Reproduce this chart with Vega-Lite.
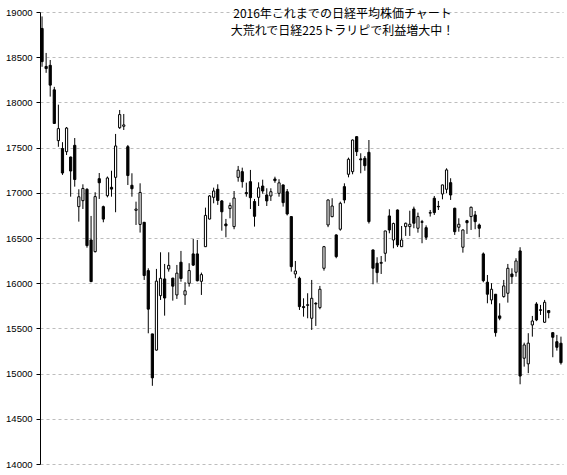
{
  "$schema": "https://vega.github.io/schema/vega-lite/v6.json",
  "width": 523,
  "height": 452,
  "autosize": {"type": "none"},
  "padding": {"left": 40, "top": 12, "right": 4, "bottom": 11},
  "background": "white",
  "title": {
    "text": ["2016年これまでの日経平均株価チャート", "大荒れで日経225トラリピで利益増大中！"],
    "anchor": "middle", "frame": "group", "dx": 41, "offset": -31,
    "font": "Noto Sans CJK JP", "fontSize": 12, "fontWeight": "normal", "color": "black", "lineHeight": 17
  },
  "config": {"view": {"stroke": null}},
  "data": {"values": [
    {"d": "2016-01-04", "o": 18818, "h": 18951, "l": 18394, "c": 18451},
    {"d": "2016-01-05", "o": 18398, "h": 18547, "l": 18327, "c": 18374},
    {"d": "2016-01-06", "o": 18410, "h": 18469, "l": 18064, "c": 18191},
    {"d": "2016-01-07", "o": 18139, "h": 18172, "l": 17767, "c": 17767},
    {"d": "2016-01-08", "o": 17577, "h": 17975, "l": 17509, "c": 17710},
    {"d": "2016-01-12", "o": 17490, "h": 17560, "l": 17198, "c": 17219},
    {"d": "2016-01-13", "o": 17455, "h": 17728, "l": 17418, "c": 17716},
    {"d": "2016-01-14", "o": 17396, "h": 17400, "l": 16957, "c": 17241},
    {"d": "2016-01-15", "o": 17525, "h": 17606, "l": 17068, "c": 17147},
    {"d": "2016-01-18", "o": 16847, "h": 17039, "l": 16681, "c": 16956},
    {"d": "2016-01-19", "o": 16913, "h": 17094, "l": 16821, "c": 17048},
    {"d": "2016-01-20", "o": 17039, "h": 17050, "l": 16393, "c": 16416},
    {"d": "2016-01-21", "o": 16478, "h": 16744, "l": 16017, "c": 16017},
    {"d": "2016-01-22", "o": 16349, "h": 17006, "l": 16340, "c": 16958},
    {"d": "2016-01-25", "o": 17156, "h": 17219, "l": 16932, "c": 17111},
    {"d": "2016-01-26", "o": 16847, "h": 16858, "l": 16674, "c": 16709},
    {"d": "2016-01-27", "o": 16968, "h": 17180, "l": 16950, "c": 17164},
    {"d": "2016-01-28", "o": 17061, "h": 17244, "l": 16957, "c": 17041},
    {"d": "2016-01-29", "o": 17171, "h": 17651, "l": 16785, "c": 17518},
    {"d": "2016-02-01", "o": 17720, "h": 17916, "l": 17707, "c": 17865},
    {"d": "2016-02-02", "o": 17736, "h": 17872, "l": 17695, "c": 17751},
    {"d": "2016-02-03", "o": 17510, "h": 17529, "l": 17086, "c": 17191},
    {"d": "2016-02-04", "o": 17083, "h": 17216, "l": 16957, "c": 17045},
    {"d": "2016-02-05", "o": 16806, "h": 16902, "l": 16644, "c": 16820},
    {"d": "2016-02-08", "o": 16650, "h": 17105, "l": 16560, "c": 17004},
    {"d": "2016-02-09", "o": 16674, "h": 16674, "l": 16036, "c": 16085},
    {"d": "2016-02-10", "o": 16139, "h": 16165, "l": 15446, "c": 15713},
    {"d": "2016-02-12", "o": 15439, "h": 15440, "l": 14865, "c": 14953},
    {"d": "2016-02-15", "o": 15260, "h": 16158, "l": 15254, "c": 16023},
    {"d": "2016-02-16", "o": 15862, "h": 16342, "l": 15815, "c": 16054},
    {"d": "2016-02-17", "o": 16047, "h": 16213, "l": 15641, "c": 15836},
    {"d": "2016-02-18", "o": 16158, "h": 16342, "l": 16128, "c": 16197},
    {"d": "2016-02-19", "o": 16056, "h": 16060, "l": 15807, "c": 15967},
    {"d": "2016-02-22", "o": 15870, "h": 16202, "l": 15826, "c": 16111},
    {"d": "2016-02-23", "o": 16232, "h": 16357, "l": 16017, "c": 16052},
    {"d": "2016-02-24", "o": 15870, "h": 16011, "l": 15760, "c": 15916},
    {"d": "2016-02-25", "o": 15999, "h": 16221, "l": 15962, "c": 16140},
    {"d": "2016-02-26", "o": 16324, "h": 16490, "l": 16190, "c": 16200},
    {"d": "2016-02-29", "o": 16324, "h": 16478, "l": 16020, "c": 16027},
    {"d": "2016-03-01", "o": 16021, "h": 16117, "l": 15870, "c": 16095},
    {"d": "2016-03-02", "o": 16404, "h": 16836, "l": 16400, "c": 16750},
    {"d": "2016-03-03", "o": 16710, "h": 16975, "l": 16705, "c": 16965},
    {"d": "2016-03-04", "o": 16950, "h": 17057, "l": 16884, "c": 17020},
    {"d": "2016-03-07", "o": 17039, "h": 17094, "l": 16866, "c": 16915},
    {"d": "2016-03-08", "o": 16910, "h": 16920, "l": 16581, "c": 16790},
    {"d": "2016-03-09", "o": 16655, "h": 16711, "l": 16508, "c": 16635},
    {"d": "2016-03-10", "o": 16825, "h": 16891, "l": 16718, "c": 16860},
    {"d": "2016-03-11", "o": 16626, "h": 17020, "l": 16597, "c": 16942},
    {"d": "2016-03-14", "o": 17171, "h": 17297, "l": 17123, "c": 17250},
    {"d": "2016-03-15", "o": 17234, "h": 17278, "l": 17057, "c": 17123},
    {"d": "2016-03-16", "o": 17002, "h": 17112, "l": 16957, "c": 16990},
    {"d": "2016-03-17", "o": 17123, "h": 17253, "l": 16821, "c": 16946},
    {"d": "2016-03-18", "o": 16904, "h": 16932, "l": 16626, "c": 16740},
    {"d": "2016-03-22", "o": 16950, "h": 17116, "l": 16854, "c": 17055},
    {"d": "2016-03-23", "o": 17075, "h": 17145, "l": 16990, "c": 17020},
    {"d": "2016-03-24", "o": 16976, "h": 17050, "l": 16854, "c": 16910},
    {"d": "2016-03-25", "o": 16965, "h": 17050, "l": 16910, "c": 17012},
    {"d": "2016-03-28", "o": 17153, "h": 17178, "l": 17110, "c": 17134},
    {"d": "2016-03-29", "o": 16994, "h": 17150, "l": 16957, "c": 17110},
    {"d": "2016-03-30", "o": 17087, "h": 17090, "l": 16847, "c": 16891},
    {"d": "2016-03-31", "o": 17012, "h": 17042, "l": 16750, "c": 16766},
    {"d": "2016-04-01", "o": 16737, "h": 16737, "l": 16128, "c": 16183},
    {"d": "2016-04-04", "o": 16102, "h": 16246, "l": 16055, "c": 16135},
    {"d": "2016-04-05", "o": 16055, "h": 16072, "l": 15704, "c": 15741},
    {"d": "2016-04-06", "o": 15741, "h": 15833, "l": 15630, "c": 15730},
    {"d": "2016-04-07", "o": 15755, "h": 15889, "l": 15612, "c": 15762},
    {"d": "2016-04-08", "o": 15612, "h": 16036, "l": 15483, "c": 15833},
    {"d": "2016-04-11", "o": 15778, "h": 15790, "l": 15527, "c": 15770},
    {"d": "2016-04-12", "o": 15730, "h": 15970, "l": 15712, "c": 15933},
    {"d": "2016-04-13", "o": 16165, "h": 16412, "l": 16139, "c": 16404},
    {"d": "2016-04-14", "o": 16644, "h": 16925, "l": 16620, "c": 16921},
    {"d": "2016-04-15", "o": 16736, "h": 16940, "l": 16730, "c": 16854},
    {"d": "2016-04-18", "o": 16534, "h": 16540, "l": 16276, "c": 16294},
    {"d": "2016-04-19", "o": 16597, "h": 16902, "l": 16581, "c": 16884},
    {"d": "2016-04-20", "o": 17068, "h": 17105, "l": 16884, "c": 16921},
    {"d": "2016-04-21", "o": 17205, "h": 17389, "l": 17171, "c": 17371},
    {"d": "2016-04-22", "o": 17234, "h": 17590, "l": 17205, "c": 17584},
    {"d": "2016-04-25", "o": 17621, "h": 17625, "l": 17407, "c": 17455},
    {"d": "2016-04-26", "o": 17375, "h": 17437, "l": 17216, "c": 17365},
    {"d": "2016-04-27", "o": 17382, "h": 17407, "l": 17244, "c": 17300},
    {"d": "2016-04-28", "o": 17448, "h": 17584, "l": 16660, "c": 16681},
    {"d": "2016-05-02", "o": 16368, "h": 16370, "l": 15988, "c": 16165},
    {"d": "2016-05-06", "o": 16221, "h": 16287, "l": 16006, "c": 16117},
    {"d": "2016-05-09", "o": 16220, "h": 16301, "l": 16102, "c": 16230},
    {"d": "2016-05-10", "o": 16331, "h": 16580, "l": 16238, "c": 16578},
    {"d": "2016-05-11", "o": 16744, "h": 16818, "l": 16552, "c": 16589},
    {"d": "2016-05-12", "o": 16478, "h": 16670, "l": 16386, "c": 16660},
    {"d": "2016-05-13", "o": 16810, "h": 16815, "l": 16400, "c": 16423},
    {"d": "2016-05-16", "o": 16404, "h": 16633, "l": 16400, "c": 16478},
    {"d": "2016-05-17", "o": 16626, "h": 16670, "l": 16523, "c": 16663},
    {"d": "2016-05-18", "o": 16626, "h": 16802, "l": 16523, "c": 16652},
    {"d": "2016-05-19", "o": 16821, "h": 16847, "l": 16608, "c": 16663},
    {"d": "2016-05-20", "o": 16608, "h": 16781, "l": 16559, "c": 16737},
    {"d": "2016-05-23", "o": 16680, "h": 16700, "l": 16442, "c": 16674},
    {"d": "2016-05-24", "o": 16614, "h": 16640, "l": 16478, "c": 16508},
    {"d": "2016-05-25", "o": 16775, "h": 16810, "l": 16737, "c": 16781},
    {"d": "2016-05-26", "o": 16940, "h": 16965, "l": 16755, "c": 16781},
    {"d": "2016-05-27", "o": 16850, "h": 16910, "l": 16810, "c": 16845},
    {"d": "2016-05-30", "o": 16987, "h": 17090, "l": 16928, "c": 17087},
    {"d": "2016-05-31", "o": 17039, "h": 17271, "l": 16995, "c": 17253},
    {"d": "2016-06-01", "o": 17112, "h": 17161, "l": 16921, "c": 16976},
    {"d": "2016-06-02", "o": 16829, "h": 16835, "l": 16534, "c": 16570},
    {"d": "2016-06-03", "o": 16619, "h": 16718, "l": 16570, "c": 16652},
    {"d": "2016-06-06", "o": 16398, "h": 16595, "l": 16338, "c": 16589},
    {"d": "2016-06-07", "o": 16691, "h": 16700, "l": 16545, "c": 16669},
    {"d": "2016-06-08", "o": 16737, "h": 16847, "l": 16589, "c": 16840},
    {"d": "2016-06-09", "o": 16755, "h": 16799, "l": 16597, "c": 16681},
    {"d": "2016-06-10", "o": 16644, "h": 16660, "l": 16508, "c": 16608},
    {"d": "2016-06-13", "o": 16324, "h": 16340, "l": 16010, "c": 16028},
    {"d": "2016-06-14", "o": 16011, "h": 16091, "l": 15778, "c": 15878},
    {"d": "2016-06-15", "o": 15815, "h": 16000, "l": 15767, "c": 15933},
    {"d": "2016-06-16", "o": 15878, "h": 15880, "l": 15409, "c": 15453},
    {"d": "2016-06-17", "o": 15638, "h": 15778, "l": 15590, "c": 15612},
    {"d": "2016-06-20", "o": 15852, "h": 16036, "l": 15840, "c": 15970},
    {"d": "2016-06-21", "o": 15889, "h": 16213, "l": 15785, "c": 16165},
    {"d": "2016-06-22", "o": 16102, "h": 16165, "l": 15992, "c": 16072},
    {"d": "2016-06-23", "o": 16121, "h": 16276, "l": 16072, "c": 16246},
    {"d": "2016-06-24", "o": 16357, "h": 16398, "l": 14882, "c": 14973},
    {"d": "2016-06-27", "o": 15170, "h": 15342, "l": 15077, "c": 15317},
    {"d": "2016-06-28", "o": 15108, "h": 15447, "l": 15005, "c": 15337},
    {"d": "2016-06-29", "o": 15538, "h": 15638, "l": 15409, "c": 15582},
    {"d": "2016-06-30", "o": 15770, "h": 15790, "l": 15580, "c": 15593},
    {"d": "2016-07-01", "o": 15706, "h": 15760, "l": 15649, "c": 15700},
    {"d": "2016-07-04", "o": 15568, "h": 15815, "l": 15560, "c": 15789},
    {"d": "2016-07-05", "o": 15697, "h": 15700, "l": 15612, "c": 15674},
    {"d": "2016-07-06", "o": 15453, "h": 15455, "l": 15181, "c": 15402},
    {"d": "2016-07-07", "o": 15353, "h": 15428, "l": 15254, "c": 15291},
    {"d": "2016-07-08", "o": 15336, "h": 15409, "l": 15100, "c": 15121}
  ]},
  "encoding": {
    "x": {"field": "d", "type": "ordinal", "scale": {"type": "point", "padding": 0.5}, "axis": null}
  },
  "layer": [
    {
      "mark": {"type": "rule", "color": "black", "strokeWidth": 1},
      "encoding": {
        "y": {"field": "l", "type": "quantitative",
          "scale": {"domain": [14000, 19000], "zero": false, "nice": false},
          "axis": {
            "values": [14000, 14500, 15000, 15500, 16000, 16500, 17000, 17500, 18000, 18500, 19000],
            "format": "d", "title": null, "grid": true,
            "gridDash": [3, 3], "gridColor": "#bdbdbd", "gridWidth": 1,
            "domainColor": "black", "domainWidth": 1,
            "tickColor": "black", "tickSize": 4, "tickWidth": 1,
            "labelFont": "Liberation Sans", "labelFontSize": 9.5, "labelColor": "black",
            "labelPadding": 4, "labelFlush": false, "labelOverlap": false
          }},
        "y2": {"field": "h"}
      }
    },
    {
      "mark": {"type": "bar", "size": 2.2, "stroke": "black", "strokeWidth": 1},
      "encoding": {
        "y": {"field": "o", "type": "quantitative"},
        "y2": {"field": "c"},
        "fill": {"condition": {"test": "datum.c < datum.o", "value": "black"}, "value": "white"}
      }
    }
  ]
}
